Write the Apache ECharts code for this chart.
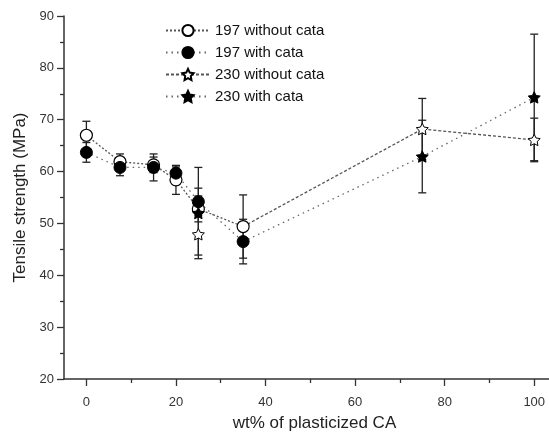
<!DOCTYPE html>
<html>
<head>
<meta charset="utf-8">
<script src="https://cdn.jsdelivr.net/npm/echarts@6/dist/echarts.min.js"></script>
<style>
  html, body { margin: 0; padding: 0; background: #fff; }
  #chart { width: 549px; height: 439px; }
</style>
</head>
<body>
<div id="chart"></div>
<script>
// 197 series (circles)
const x197 = [0, 7.5, 15, 20, 25, 35]
const without197 = [67.0, 61.9, 61.3, 58.4, 52.8, 49.4]
const without197Err = [2.7, 1.5, 1.5, 2.8, 2.5, 6.1]
const with197 = [63.7, 60.8, 60.8, 59.7, 54.2, 46.5]
const with197Err = [1.9, 1.6, 2.6, 1.2, 2.6, 4.3]

// 230 series (stars)
const x230 = [25, 75, 100]
const without230 = [47.9, 68.2, 66.1]
const without230Err = [4.0, 5.9, 4.2]
const with230 = [52.0, 62.9, 74.3]
const with230Err = [8.8, 7.0, 12.2]

const xMajor = [0, 20, 40, 60, 80, 100]
const xMinor = [10, 30, 50, 70, 90]

const STAR = 'path://M0,-10L2.94,-4.05L9.51,-3.09L4.76,1.55L5.88,8.09L0,5L-5.88,8.09L-4.76,1.55L-9.51,-3.09L-2.94,-4.05Z'
const FONT = 'Liberation Sans'

// star series: lone point at 25, break, then line from the 35 wt% circle to 75 and 100
function starData(vals, link) {
  return [
    [x230[0], vals[0]],
    [30, '-'],
    { value: [35, link], symbol: 'none' },
    [x230[1], vals[1]],
    [x230[2], vals[2]]
  ]
}

const errRows = []
x197.forEach((x, i) => {
  errRows.push([x, without197[i], without197Err[i]])
  errRows.push([x, with197[i], with197Err[i]])
})
x230.forEach((x, i) => {
  errRows.push([x, without230[i], without230Err[i]])
  errRows.push([x, with230[i], with230Err[i]])
})

// axis runs past the right edge in the original, so it ends at the canvas edge here
const X_MIN = -5, X_MAX = 103.3

const chart = echarts.init(document.getElementById('chart'))
chart.setOption({
  animation: false,
  textStyle: { fontFamily: FONT },
  grid: { left: 64, top: 16, width: 485, height: 363 },
  legend: {
    orient: 'vertical', left: 160, top: 18, itemWidth: 44, itemHeight: 14, itemGap: 7,
    textStyle: { fontFamily: FONT, fontSize: 15, color: '#111' },
    data: ['197 without cata', '197 with cata', '230 without cata', '230 with cata']
  },
  xAxis: [{
    type: 'value', min: X_MIN, max: X_MAX, position: 'bottom',
    name: 'wt% of plasticized CA', nameLocation: 'middle', nameGap: 36,
    nameTextStyle: { fontSize: 17, color: '#222', fontFamily: FONT, padding: [0, 0, 0, 16] },
    axisLine: { onZero: false, lineStyle: { color: '#333', width: 1.5 } },
    axisTick: { customValues: xMajor, length: 7, lineStyle: { color: '#333', width: 1.3 } },
    axisLabel: { customValues: xMajor, margin: 17, fontSize: 13, color: '#333', fontFamily: FONT },
    splitLine: { show: false }
  }, {
    type: 'value', min: X_MIN, max: X_MAX, position: 'bottom', gridIndex: 0,
    axisLine: { show: false, onZero: false },
    axisTick: { customValues: xMinor, length: 4, lineStyle: { color: '#333', width: 1.3 } },
    axisLabel: { show: false },
    splitLine: { show: false }
  }],
  yAxis: {
    type: 'value', min: 20, max: 90, interval: 10,
    name: 'Tensile strength (MPa)', nameLocation: 'middle', nameGap: 33,
    nameTextStyle: { fontSize: 17, color: '#222', fontFamily: FONT },
    axisLine: { show: true, onZero: false, lineStyle: { color: '#333', width: 1.5 } },
    axisTick: { show: true, length: 7, lineStyle: { color: '#333', width: 1.3 } },
    minorTick: { show: true, splitNumber: 2, length: 4, lineStyle: { color: '#333', width: 1.3 } },
    axisLabel: { margin: 10, fontSize: 13, color: '#333', fontFamily: FONT },
    splitLine: { show: false }
  },
  series: [
    {
      type: 'custom', name: 'err', silent: true, z: 1,
      encode: { x: 0, y: 1 },
      data: errRows,
      renderItem: (params, api) => {
        const x = api.value(0), y = api.value(1), e = api.value(2)
        const t = api.coord([x, y + e]), b = api.coord([x, y - e])
        const st = { stroke: '#222', lineWidth: 1.3 }
        return {
          type: 'group', children: [
            { type: 'line', shape: { x1: t[0], y1: t[1], x2: b[0], y2: b[1] }, style: st },
            { type: 'line', shape: { x1: t[0] - 4, y1: t[1], x2: t[0] + 4, y2: t[1] }, style: st },
            { type: 'line', shape: { x1: b[0] - 4, y1: b[1], x2: b[0] + 4, y2: b[1] }, style: st }
          ]
        }
      }
    },
    {
      name: '197 without cata', type: 'line', z: 3,
      data: x197.map((x, i) => [x, without197[i]]),
      symbol: 'circle', symbolSize: 12,
      itemStyle: { color: '#fff', borderColor: '#000', borderWidth: 1.2 },
      lineStyle: { color: '#555', width: 1.3, type: [2, 2] }
    },
    {
      name: '197 with cata', type: 'line', z: 3,
      data: x197.map((x, i) => [x, with197[i]]),
      symbol: 'circle', symbolSize: 12,
      itemStyle: { color: '#000', borderColor: '#000', borderWidth: 1 },
      lineStyle: { color: '#666', width: 1.3, type: [1.5, 4] }
    },
    {
      name: '230 without cata', type: 'line', z: 3,
      data: starData(without230, without197[5]),
      symbol: STAR, symbolSize: 12, symbolKeepAspect: true,
      itemStyle: { color: '#fff', borderColor: '#000', borderWidth: 1 },
      lineStyle: { color: '#555', width: 1.3, type: [3, 2] }
    },
    {
      name: '230 with cata', type: 'line', z: 3,
      data: starData(with230, with197[5]),
      symbol: STAR, symbolSize: 12, symbolKeepAspect: true,
      itemStyle: { color: '#000', borderColor: '#000', borderWidth: 1 },
      lineStyle: { color: '#666', width: 1.3, type: [1.5, 4] }
    }
  ]
})
</script>
</body>
</html>
